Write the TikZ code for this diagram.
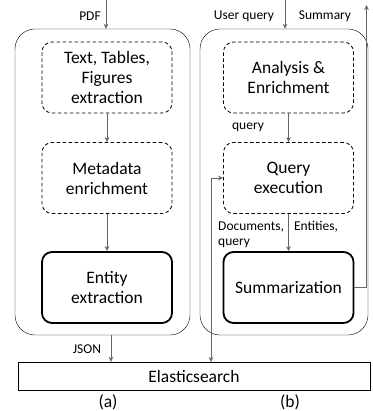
\documentclass[tikz,border=0pt]{standalone}
\usepackage{fontspec}
\setmainfont{Carlito}
\usetikzlibrary{arrows.meta}

\begin{document}
\begin{tikzpicture}[
    x=1pt, y=-1pt,
    panel/.style={draw, rounded corners=20pt, minimum width=#1, minimum height=306pt},
    stage/.style={draw=black, line width=0.8pt, dashed, dash pattern=on 3.5pt off 2.5pt, rounded corners=10pt,
        minimum width=130pt, minimum height=71pt, align=center, font=\fontsize{17.5}{20}\selectfont},
    core/.style={stage, solid, draw=black, line width=1.8pt},
    lbl/.style={inner sep=0pt, font=\fontsize{13.5}{15}\selectfont},
    big/.style={inner sep=0pt, font=\fontsize{17.5}{20}\selectfont},
    flow/.style={draw=black!60, -{Stealth[length=5pt, width=4.5pt]}}
]
\useasboundingbox (0,0) rectangle (372,411);

% Panel (a)
\node[panel=175pt] (pa) at (102.5, 182) {};
\node[stage] (ext) at (107, 77.5) {Text, Tables,\\Figures\\extraction};
\node[stage] (meta) at (107, 178) {Metadata\\enrichment};
\node[core] (ent) at (107, 287.5) {Entity\\extraction};

% Panel (b)
\node[panel=168pt] (pb) at (284, 182) {};
\node[stage] (ana) at (288.5, 77.5) {Analysis \&\\Enrichment};
\node[stage] (qex) at (288.5, 178) {Query\\execution};
\node[core] (summ) at (288.5, 287.5) {Summarization};

% Storage
\node[draw, minimum width=352pt, minimum height=28pt, big] (es) at (194, 376) {Elasticsearch};
\node[big] (capa) at (108, 402) {(a)};
\node[big] (capb) at (290, 402) {(b)};

% Inputs and outputs
\coordinate (pdfin) at (106, 0);
\coordinate (uqin) at (285, 0);
\coordinate (jsonout) at (111, 335);
\coordinate (sumout) at (366.5, 5);
\coordinate (fb) at (211, 362);

\draw[flow] (pdfin) -- (pdfin |- pa.north);
\node[lbl] (lpdf) at (90, 16) {PDF};
\draw[flow] (uqin) -- (uqin |- pb.north);
\node[lbl] (luq) at (244, 16) {User query};
\node[lbl] (lsum) at (325, 16) {Summary};
\draw[flow] (summ.east) -| (sumout);

% Pipeline (a)
\draw[flow] (ext) -- (meta);
\draw[flow] (meta) -- (ent);
\draw[flow] (jsonout) -- (jsonout |- es.north);
\node[lbl] (ljson) at (87, 349) {JSON};

% Pipeline (b)
\draw[flow] (ana) -- (qex);
\node[lbl] (lq) at (248, 127) {query};
\draw[flow] (qex) -- (summ);
\node[lbl, anchor=west, align=left] (ldoc) at (218, 234.5) {Documents,\hspace{10pt}Entities,\\query};
\draw[flow, {Stealth[length=5pt, width=4.5pt]}-{Stealth[length=5pt, width=4.5pt]}] (qex.west) -| (fb);

\end{tikzpicture}
\end{document}
